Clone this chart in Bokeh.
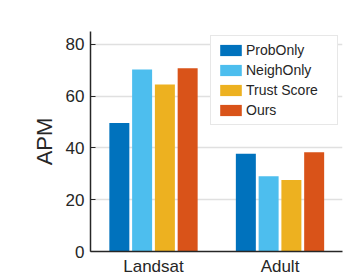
from bokeh.plotting import figure
from bokeh.models import ColumnDataSource, FixedTicker, Legend, LegendItem, Range1d
from bokeh.embed import file_html
from bokeh.resources import INLINE

categories = ["Landsat", "Adult"]
methods = ["ProbOnly", "NeighOnly", "Trust Score", "Ours"]
prob_only = [49.6, 37.8]
neigh_only = [70.3, 29.1]
trust_score = [64.5, 27.6]
ours = [70.8, 38.3]
colors = ["#0072BD", "#4DBEEE", "#EDB120", "#D95319"]
y_ticks = [0, 20, 40, 60, 80]

series = [prob_only, neigh_only, trust_score, ours]
FONT = "Liberation Sans"
TXT = "#262626"

p = figure(width=344, height=278, output_backend="svg", toolbar_location=None,
           x_range=Range1d(0.502, 2.494), y_range=Range1d(0, 85),
           min_border_left=90, min_border_right=2, min_border_top=31, min_border_bottom=26)
p.outline_line_color = None

pitch = 0.18
bw = 0.158
xs = [i + 1 for i in range(len(categories))]
items = []
for k, (vals, c, name) in enumerate(zip(series, colors, methods)):
    off = (k - 1.5) * pitch
    src = ColumnDataSource(dict(x=[x + off for x in xs], top=vals))
    r = p.vbar(x="x", top="top", width=bw, bottom=0, source=src,
               fill_color=c, line_color=None)
    items.append(LegendItem(label=name, renderers=[r]))

# axes
p.xaxis.ticker = FixedTicker(ticks=xs)
p.xaxis.major_label_overrides = {x: c for x, c in zip(xs, categories)}
p.xaxis.major_tick_line_color = None
p.xaxis.major_tick_in = 0
p.xaxis.major_tick_out = 0
p.xaxis.minor_tick_line_color = None
p.yaxis.ticker = FixedTicker(ticks=y_ticks)
p.yaxis.minor_tick_line_color = None
p.yaxis.major_tick_in = 5
p.yaxis.major_tick_out = 0
p.yaxis.major_tick_line_color = TXT
for ax in (p.xaxis, p.yaxis):
    ax.axis_line_color = TXT
    ax.axis_line_width = 1.5
    ax.major_label_text_font = FONT
    ax.major_label_text_font_size = "17px"
    ax.major_label_text_color = TXT
p.yaxis.major_label_standoff = 6
p.xaxis.major_label_standoff = 5
p.yaxis.axis_label = "APM"
p.yaxis.axis_label_text_font = FONT
p.yaxis.axis_label_text_font_size = "22px"
p.yaxis.axis_label_text_font_style = "normal"
p.yaxis.axis_label_text_color = TXT
p.yaxis.axis_label_standoff = 6

p.xgrid.grid_line_color = None
p.ygrid.grid_line_color = "#e0e0e0"
p.ygrid.grid_line_width = 1.5

legend = Legend(items=items, location="top_right")
legend.border_line_color = "#d0d0d0"
legend.background_fill_color = "white"
legend.background_fill_alpha = 1
legend.label_text_font = FONT
legend.label_text_font_size = "14px"
legend.label_text_color = TXT
legend.glyph_width = 27
legend.glyph_height = 14
legend.label_height = 14
legend.label_width = 85
legend.spacing = 4
legend.padding = 6
legend.margin = 4
legend.label_standoff = 2
p.add_layout(legend, "center")

open("out.html", "w").write(file_html(p, INLINE))
